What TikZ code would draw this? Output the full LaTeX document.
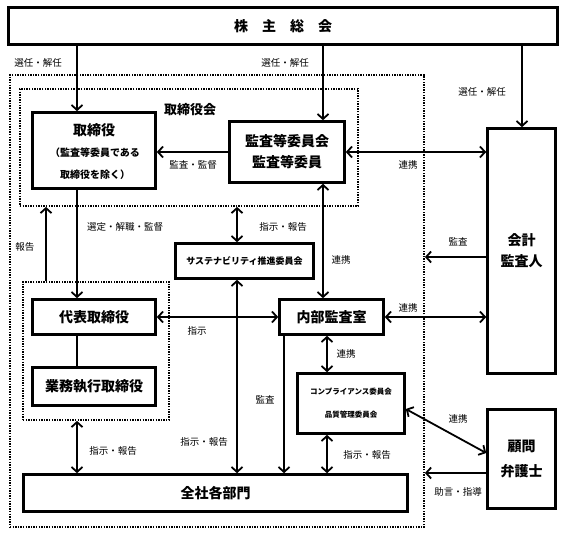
\documentclass[tikz,border=0pt]{standalone}
\usepackage{fontspec}
\newfontfamily\jp{Noto Sans CJK JP}
\usetikzlibrary{arrows.meta}
\begin{document}
\begin{tikzpicture}[x=1pt,y=-1pt,
  box/.style={draw, line width=2.6pt, inner sep=0pt, align=center, font=\jp\bfseries\fontsize{14}{21}\selectfont},
  dotbox/.style={draw, line width=1.8pt, dash pattern=on 1.4pt off 1.2pt, inner sep=0pt},
  lbl/.style={font=\jp\fontsize{9.5}{11}\selectfont, inner sep=0pt},
  btxt/.style={font=\jp\bfseries\fontsize{14}{16}\selectfont, inner sep=0pt},
  stxt/.style={font=\jp\bfseries\fontsize{10}{12}\selectfont, inner sep=0pt},
  ln/.style={line width=1.8pt},
  arr/.style={line width=1.8pt, -{Straight Barb[length=5pt,width=11pt]}},
  darr/.style={line width=1.8pt, {Straight Barb[length=5pt,width=11pt]}-{Straight Barb[length=5pt,width=11pt]}}
]
\useasboundingbox (0,0) rectangle (567,534);

% dotted frames
\node[dotbox, minimum width=414, minimum height=452] (outer) at (217,301) {};
\node[dotbox, minimum width=338, minimum height=117] (inner) at (189,147.5) {};
\node[dotbox, minimum width=146, minimum height=138] (group) at (96,351) {};

% boxes
\node[box, minimum width=549, minimum height=37] (top) at (283,26) {株\hspace{1em}主\hspace{1em}総\hspace{1em}会};
\node[box, minimum width=123, minimum height=76] (tori) at (94,150.5) {};
\node[btxt] (toriT) at (94,130) {取締役};
\node[stxt] (toriA) at (95,153) {（監査等委員である};
\node[stxt] (toriB) at (95,175) {取締役を除く）};
\node[box, minimum width=115, minimum height=61] (kansa) at (287,152) {監査等委員会\\監査等委員};
\node[box, minimum width=68, minimum height=245] (kaikei) at (521.5,251) {会計\\監査人};
\node[box, minimum width=138, minimum height=35, font=\jp\bfseries\fontsize{9}{11}\selectfont] (sustain) at (244.5,261) {サステナビリティ推進委員会};
\node[box, minimum width=123, minimum height=35] (daihyo) at (94,317) {代表取締役};
\node[box, minimum width=123, minimum height=38] (gyomu) at (94,386.5) {業務執行取締役};
\node[box, minimum width=104, minimum height=35] (naibu) at (331.5,317) {内部監査室};
\node[box, minimum width=107, minimum height=60, font=\jp\bfseries\fontsize{7.5}{23}\selectfont] (comp) at (351,403.5) {コンプライアンス委員会\\品質管理委員会};
\node[box, minimum width=68, minimum height=99, font=\jp\bfseries\fontsize{14}{25}\selectfont] (komon) at (521.5,459) {顧問\\弁護士};
\node[box, minimum width=384, minimum height=37] (zensha) at (215.5,493) {全社各部門};

% helper coordinates
\coordinate (x46) at (46,0);
\coordinate (x77) at (77,0);
\coordinate (x237) at (237,0);
\coordinate (x284) at (284,0);
\coordinate (x323) at (323,0);
\coordinate (x327) at (327,0);
\coordinate (x522) at (522,0);
\coordinate (y257) at (0,257);
\coordinate (y409) at (0,409);
\coordinate (y453) at (0,453);
\coordinate (y473) at (0,473);

% connectors
\draw[arr] (top.south -| x77) -- (tori.north -| x77);
\draw[arr] (top.south -| x323) -- (kansa.north -| x323);
\draw[arr] (top.south -| x522) -- (kaikei.north -| x522);
\draw[arr] (kansa.west) -- (tori.east |- kansa.west);
\draw[darr] (kansa.east) -- (kaikei.west |- kansa.east);
\draw[arr] (kaikei.west |- y257) -- (outer.east |- y257);
\draw[darr] (inner.south -| x237) -- (sustain.north -| x237);
\draw[arr] (tori.south -| x77) -- (daihyo.north -| x77);
\draw[arr] (group.north -| x46) -- (inner.south -| x46);
\draw[ln] (daihyo.south -| x77) -- (gyomu.north -| x77);
\draw[darr] (daihyo.east) -- (naibu.west);
\draw[darr] (naibu.east) -- (kaikei.west |- naibu.east);
\draw[darr] (kansa.south -| x323) -- (naibu.north -| x323);
\draw[darr] (sustain.south -| x237) -- (zensha.north -| x237);
\draw[arr] (naibu.south -| x284) -- (zensha.north -| x284);
\draw[darr] (naibu.south -| x327) -- (comp.north -| x327);
\draw[darr] (comp.south -| x327) -- (zensha.north -| x327);
\draw[darr] (comp.east |- y409) -- (komon.west |- y453);
\draw[arr] (komon.west |- y473) -- (outer.east |- y473);
\draw[darr] (group.south -| x77) -- (zensha.north -| x77);

% labels
\node[lbl] (l1) at (38,63) {選任・解任};
\node[lbl] (l2) at (285,63) {選任・解任};
\node[lbl] (l3) at (482,92) {選任・解任};
\node[font=\jp\bfseries\fontsize{13}{15}\selectfont, inner sep=0pt] (l4) at (190,110) {取締役会};
\node[lbl] (l5) at (193,165) {監査・監督};
\node[lbl] (l6) at (408,165) {連携};
\node[lbl] (l7) at (458,242) {監査};
\node[lbl] (l8) at (125,227) {選定・解職・監督};
\node[lbl] (l9) at (25,247) {報告};
\node[lbl] (l10) at (283,227) {指示・報告};
\node[lbl] (l11) at (341,260) {連携};
\node[lbl] (l12) at (197,331) {指示};
\node[lbl] (l13) at (408,308) {連携};
\node[lbl] (l14) at (346,354) {連携};
\node[lbl] (l15) at (265,400) {監査};
\node[lbl] (l16) at (458,419) {連携};
\node[lbl] (l17) at (113,451) {指示・報告};
\node[lbl] (l18) at (204,442) {指示・報告};
\node[lbl] (l19) at (367,455) {指示・報告};
\node[lbl] (l20) at (458,492) {助言・指導};
\end{tikzpicture}
\end{document}
